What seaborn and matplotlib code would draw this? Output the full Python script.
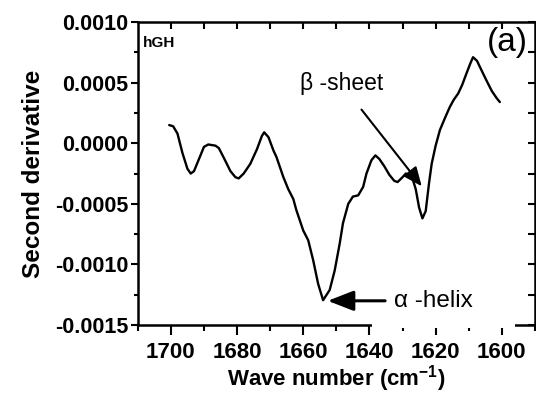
import numpy as np
import pandas as pd
import matplotlib
matplotlib.use("Agg")
import matplotlib.pyplot as plt
import seaborn as sns
from matplotlib.patches import Rectangle
from matplotlib.text import Annotation
from matplotlib.ticker import MultipleLocator, NullFormatter

wavenumber = [1700.5, 1699.3, 1698.0, 1696.5, 1695.0, 1694.0, 1693.0, 1691.5, 1690.0, 1688.7,
              1686.5, 1685.5, 1684.0, 1682.0, 1680.5, 1679.5, 1678.0, 1676.0, 1674.0, 1672.5,
              1671.8, 1670.5, 1669.0, 1668.1, 1666.0, 1664.5, 1663.0, 1662.1, 1660.0, 1658.5,
              1657.0, 1655.5, 1654.0, 1652.0, 1650.5, 1649.0, 1648.0, 1646.4, 1645.0, 1643.4,
              1641.9, 1640.9, 1639.4, 1638.2, 1637.0, 1635.5, 1634.0, 1632.5, 1631.5, 1630.0,
              1629.0, 1628.0, 1627.0, 1626.0, 1625.0, 1624.0, 1623.0, 1622.0, 1621.2, 1620.0,
              1618.7, 1617.0, 1615.7, 1614.5, 1613.2, 1612.0, 1610.7, 1609.5, 1608.7, 1607.5,
              1606.1, 1604.5, 1603.0, 1601.5, 1600.6]
second_derivative = [1.5, 1.4, 0.8, -0.8, -2.1, -2.5, -2.3, -1.3, -0.3, -0.1,
                     -0.2, -0.4, -1.2, -2.3, -2.8, -2.9, -2.5, -1.7, -0.5, 0.6,
                     0.9, 0.5, -0.6, -1.13, -2.8, -3.8, -4.6, -5.5, -7.2, -8.0,
                     -9.65, -11.6, -12.95, -12.1, -10.5, -8.3, -6.6, -5.0, -4.4, -4.3,
                     -3.6, -2.5, -1.4, -1.0, -1.3, -1.9, -2.6, -3.1, -3.2, -2.8,
                     -2.5, -2.6, -2.9, -3.8, -5.3, -6.2, -5.6, -3.3, -1.7, -0.2,
                     1.1, 2.2, 3.0, 3.6, 4.1, 4.8, 5.75, 6.6, 7.1, 6.8,
                     6.0, 5.1, 4.3, 3.7, 3.4]
second_derivative = [v * 1e-4 for v in second_derivative]

x_ticks = [1700, 1680, 1660, 1640, 1620, 1600]
y_ticks = [0.0010, 0.0005, 0.0000, -0.0005, -0.0010, -0.0015]
y_ticklabels = ["0.0010", "0.0005", "0.0000", "-0.0005", "-0.0010", "-0.0015"]

df = pd.DataFrame({"w": wavenumber, "d": second_derivative})

sns.set_theme(style="ticks")
plt.rcParams["font.family"] = ["Liberation Sans", "DejaVu Sans"]
plt.rcParams["mathtext.default"] = "regular"
for k in ["text.color", "axes.labelcolor", "xtick.color", "ytick.color", "axes.edgecolor"]:
    plt.rcParams[k] = "black"

fig = plt.figure(figsize=(5.36, 3.94), dpi=100)
ax = fig.add_axes([0.257, 0.175, 0.741, 0.769])

sns.lineplot(data=df, x="w", y="d", ax=ax, color="black", linewidth=1.7, sort=False,
             solid_joinstyle="round", solid_capstyle="round")

ax.set_xlim(1710, 1590)
ax.set_ylim(-0.0015, 0.0010)
ax.set_xticks(x_ticks)
ax.set_xticklabels([str(t) for t in x_ticks], fontsize=16, fontweight="bold")
ax.xaxis.set_minor_locator(MultipleLocator(10))
ax.set_yticks(y_ticks)
ax.set_yticklabels(y_ticklabels, fontsize=15.5, fontweight="bold")
ax.yaxis.set_minor_locator(MultipleLocator(0.00025))

ax.tick_params(axis="x", which="major", direction="out", length=7, width=1.5, pad=5)
ax.tick_params(axis="x", which="minor", direction="out", length=4.5, width=1.5)
ax.tick_params(axis="y", which="major", direction="out", length=5, width=1.5, pad=2)
ax.tick_params(axis="y", which="minor", direction="out", length=3, width=1.5)
for s in ax.spines.values():
    s.set_linewidth(1.8)
    s.set_color("black")

# top & right inward ticks
sec_x = ax.secondary_xaxis("top")
sec_x.set_xticks(list(np.arange(1700, 1590, -10)))
sec_x.xaxis.set_major_formatter(NullFormatter())
sec_x.tick_params(direction="in", length=5, width=1.5)
for s in sec_x.spines.values():
    s.set_visible(False)
sec_y = ax.secondary_yaxis("right")
sec_y.set_yticks(list(np.arange(-0.0015, 0.00101, 0.00025)))
sec_y.yaxis.set_major_formatter(NullFormatter())
sec_y.tick_params(direction="in", length=5, width=1.5)
for s in sec_y.spines.values():
    s.set_visible(False)

ax.set_xlabel("Wave number (cm$^{-1}$)", fontsize=16, fontweight="bold", labelpad=0)
ax.set_ylabel("Second derivative", fontsize=17.5, fontweight="bold", labelpad=7)

ax.text(0.012, 0.93, "hGH", transform=ax.transAxes, fontsize=11, fontweight="bold",
        ha="left", va="center")
ax.text(0.982, 0.985, "(a)", transform=ax.transAxes, fontsize=24,
        ha="right", va="top")

# white box behind alpha-helix label (covers part of bottom spine), drawn above the axes
fig.add_artist(Rectangle((0.59, -0.011), 0.36, 0.16, transform=ax.transAxes,
                         facecolor="white", edgecolor="none", zorder=5))

ax.annotate("β -sheet", xy=(1624.2, -3.55e-4), xytext=(1648.5, 4.9e-4),
            fontsize=16.5, ha="center", va="center",
            arrowprops=dict(arrowstyle="-|>,head_length=0.7,head_width=0.3",
                            color="black", lw=1.5, shrinkA=10, shrinkB=0))
helix = Annotation("α -helix", xy=(1652.6, -13.0e-4), xytext=(1632.6, -13.0e-4),
                   xycoords=ax.transData, textcoords=ax.transData,
                   fontsize=17.5, ha="left", va="center",
                   arrowprops=dict(arrowstyle="-|>,head_length=0.9,head_width=0.35",
                                   color="black", lw=2.2, shrinkA=4, shrinkB=0))
helix.set_zorder(6)
fig.add_artist(helix)

fig.savefig("out.png", dpi=100)
